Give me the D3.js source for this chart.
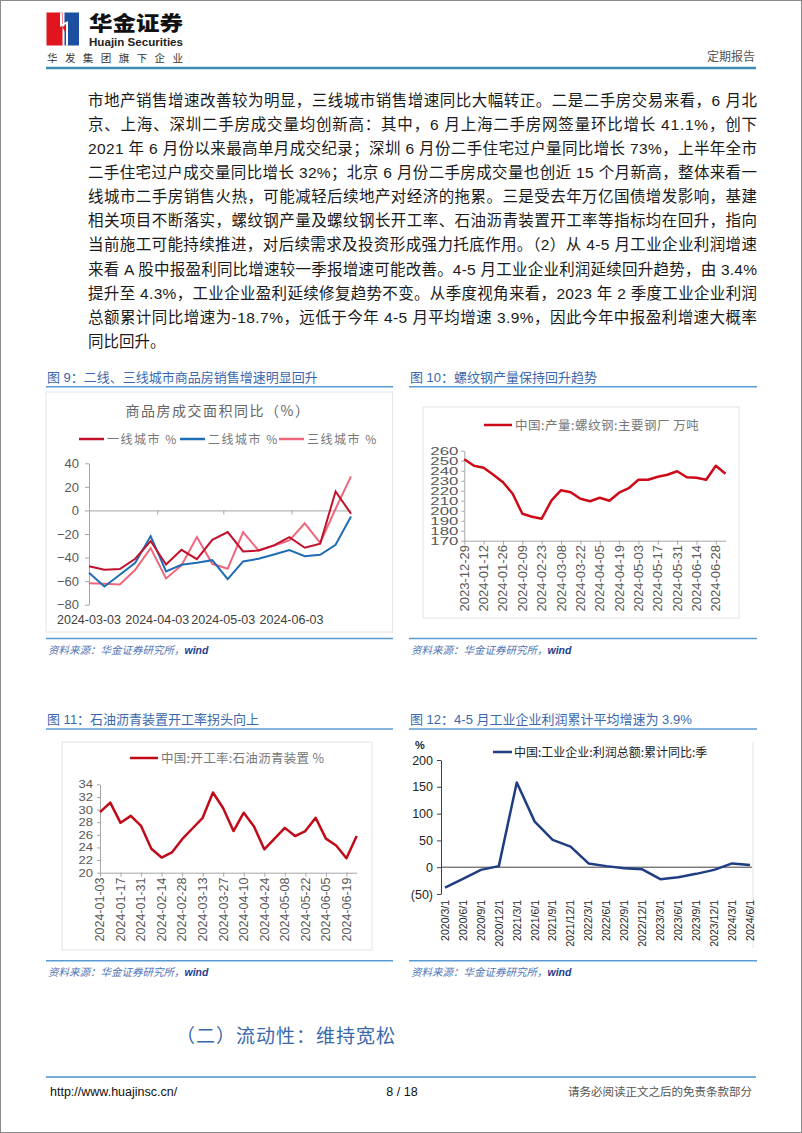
<!DOCTYPE html>
<html><head><meta charset="utf-8">
<script src="https://cdn.jsdelivr.net/npm/d3@7"></script>
<style>body{margin:0;background:#fff}svg{display:block}</style>
</head><body>
<svg id="page" width="802" height="1133"></svg>
<script>
// ---------------- DATA ----------------
const bodyLines = [
  "市地产销售增速改善较为明显，三线城市销售增速同比大幅转正。二是二手房交易来看，6 月北",
  "京、上海、深圳二手房成交量均创新高：其中，6 月上海二手房网签量环比增长 41.1%，创下",
  "2021 年 6 月份以来最高单月成交纪录；深圳 6 月份二手住宅过户量同比增长 73%，上半年全市",
  "二手住宅过户成交量同比增长 32%；北京 6 月份二手房成交量也创近 15 个月新高，整体来看一",
  "线城市二手房销售火热，可能减轻后续地产对经济的拖累。三是受去年万亿国债增发影响，基建",
  "相关项目不断落实，螺纹钢产量及螺纹钢长开工率、石油沥青装置开工率等指标均在回升，指向",
  "当前施工可能持续推进，对后续需求及投资形成强力托底作用。（2）从 4-5 月工业企业利润增速",
  "来看 A 股中报盈利同比增速较一季报增速可能改善。4-5 月工业企业利润延续回升趋势，由 3.4%",
  "提升至 4.3%，工业企业盈利延续修复趋势不变。从季度视角来看，2023 年 2 季度工业企业利润",
  "总额累计同比增速为-18.7%，远低于今年 4-5 月平均增速 3.9%，因此今年中报盈利增速大概率",
  "同比回升。"
];

// Figure 9
const c9Dates = ["2024-03-03","2024-03-10","2024-03-17","2024-03-24","2024-03-31","2024-04-07","2024-04-14","2024-04-21","2024-04-28","2024-05-05","2024-05-12","2024-05-19","2024-05-26","2024-06-02","2024-06-09","2024-06-16","2024-06-23","2024-06-30"];
const c9Tier1 = [-47.3,-50.4,-49.8,-41,-26,-45.9,-33.4,-41.3,-25,-18.4,-34.8,-34,-29.7,-22.6,-31.7,-28.3,16.1,-2.8];
const c9Tier2 = [-52.9,-64.5,-54.6,-44.4,-21.8,-51.8,-46.1,-44.4,-42.2,-58.3,-43.3,-41,-37.4,-33.7,-38.8,-37.6,-29.2,-5.1];
const c9Tier3 = [-61.7,-62.3,-62.8,-50.4,-32,-57.7,-46.7,-22.6,-45.3,-49.5,-18.4,-34,-29.7,-25.5,-11,-27.5,1.4,28.9];
const c9Names = ["一线城市 %","二线城市 %","三线城市 %"];
const c9XTicks = ["2024-03-03","2024-04-03","2024-05-03","2024-06-03"];
const c9YTicks = [40,20,0,-20,-40,-60,-80];

// Figure 10
const c10Dates = ["2023-12-29","2024-01-05","2024-01-12","2024-01-19","2024-01-26","2024-02-02","2024-02-09","2024-02-16","2024-02-23","2024-03-01","2024-03-08","2024-03-15","2024-03-22","2024-03-29","2024-04-05","2024-04-12","2024-04-19","2024-04-26","2024-05-03","2024-05-10","2024-05-17","2024-05-24","2024-05-31","2024-06-07","2024-06-14","2024-06-21","2024-06-28","2024-07-05"];
const c10Values = [251.5,245,243,236,228.5,217,197,194,192,210,220.5,218.5,212,209.5,213,210,218,222.5,231,231,234,236,239.5,233.5,233,231,245,237];
const c10Name = "中国:产量:螺纹钢:主要钢厂 万吨";
const c10YTicks = [170,180,190,200,210,220,230,240,250,260];

// Figure 11
const c11Dates = ["2024-01-03","2024-01-10","2024-01-17","2024-01-24","2024-01-31","2024-02-07","2024-02-14","2024-02-21","2024-02-28","2024-03-06","2024-03-13","2024-03-20","2024-03-27","2024-04-03","2024-04-10","2024-04-17","2024-04-24","2024-05-01","2024-05-08","2024-05-15","2024-05-22","2024-05-29","2024-06-05","2024-06-12","2024-06-19","2024-06-26"];
const c11Values = [29.6,31.1,27.9,29.0,27.4,23.8,22.4,23.2,25.3,27.0,28.7,32.7,30.2,26.6,29.5,27.3,23.7,25.4,27.1,25.8,26.6,28.7,25.4,24.3,22.3,25.8];
const c11Name = "中国:开工率:石油沥青装置 %";
const c11YTicks = [20,22,24,26,28,30,32,34];

// Figure 12
const c12Dates = ["2020/3/1","2020/6/1","2020/9/1","2020/12/1","2021/3/1","2021/6/1","2021/9/1","2021/12/1","2022/3/1","2022/6/1","2022/9/1","2022/12/1","2023/3/1","2023/6/1","2023/9/1","2023/12/1","2024/3/1","2024/6/1"];
const c12Values = [-38,-21.8,-5,2,158,85,51,38.5,7,2,-2,-4,-22.4,-18.7,-12.4,-5,7,4];
const c12Name = "中国:工业企业:利润总额:累计同比:季";
const c12YTicks = [200,150,100,50,0,-50];

// ---------------- DRAWING ----------------
const svg = d3.select("#page");
const CJK = '"Noto Sans CJK SC", sans-serif';
const LAT = '"Liberation Sans", Arial, "Noto Sans CJK SC", sans-serif';
const parse = d3.timeParse("%Y-%m-%d");
const capBlue = "#3a68ad", lineBlue = "#5b9bd5";

svg.append("rect").attr("x",0.5).attr("y",0.5).attr("width",801).attr("height",1132)
  .attr("fill","#fff").attr("stroke","#8a8a8a");

// Header / logo
const hd = svg.append("g");
hd.append("rect").attr("x",46.5).attr("y",12.5).attr("width",16).attr("height",33).attr("fill","#e0151d");
hd.append("rect").attr("x",64.5).attr("y",12.5).attr("width",14.5).attr("height",33).attr("fill","#1d4fa0");
hd.append("path").attr("d","M60,12.5 L60,27 L66,24 L66,45.5 L68,45.5 L68,21 L62,24 L62,12.5 Z").attr("fill","#fff");
hd.append("path").attr("d","M62.5,27 L66,25 L66,34 Z").attr("fill","#e0151d");
hd.append("text").attr("x",89).attr("y",30.5).attr("textLength",94).attr("lengthAdjust","spacingAndGlyphs")
  .attr("font-family",CJK).attr("font-weight",900).attr("font-size",20).attr("fill","#111").text("华金证券");
hd.append("text").attr("x",89).attr("y",46).attr("textLength",94).attr("lengthAdjust","spacingAndGlyphs")
  .attr("font-family",LAT).attr("font-weight",700).attr("font-size",10.5).attr("fill","#222").text("Huajin Securities");
hd.append("text").attr("x",47).attr("y",62).attr("textLength",136).attr("lengthAdjust","spacing")
  .attr("font-family",CJK).attr("font-size",10.5).attr("fill","#333").text("华发集团旗下企业");
hd.append("text").attr("x",755).attr("y",61).attr("text-anchor","end")
  .attr("font-family",CJK).attr("font-size",12).attr("fill","#555").text("定期报告");
hd.append("line").attr("x1",46).attr("x2",756).attr("y1",68).attr("y2",68).attr("stroke","#3f8db3").attr("stroke-width",2.5);

// Body text
const body = svg.append("g").attr("font-family",'"Liberation Sans Narrow","Liberation Sans","Noto Sans CJK SC",sans-serif')
  .attr("font-size",15.5).attr("fill","#1a1a1a");
bodyLines.forEach((t,i)=>{
  const tx = body.append("text").attr("x",88).attr("y",105.5+i*24.15).text(t);
  if(i<bodyLines.length-1) tx.attr("textLength",669).attr("lengthAdjust","spacing");
});

function caption(x,x2,yText,yLine,text){
  svg.append("text").attr("x",x).attr("y",yText+4.5).attr("font-family",'"Liberation Sans","Noto Sans CJK SC",sans-serif')
    .attr("font-size",13).attr("fill",capBlue).text(text);
  svg.append("line").attr("x1",x-1).attr("x2",x2).attr("y1",yLine).attr("y2",yLine).attr("stroke",lineBlue).attr("stroke-width",1.5);
}
function source(x,x2,yLine,yText){
  svg.append("line").attr("x1",x-1).attr("x2",x2).attr("y1",yLine).attr("y2",yLine).attr("stroke",lineBlue).attr("stroke-width",1.5);
  const t = svg.append("text").attr("x",x+1).attr("y",yText+4).attr("font-size",10.5).attr("font-style","italic")
    .attr("font-family",'"Liberation Sans","Noto Sans CJK SC",sans-serif');
  t.append("tspan").attr("fill","#4f74b5").text("资料来源：华金证券研究所，");
  t.append("tspan").attr("fill","#1f3e8c").attr("font-weight",700).text("wind");
}
function frame(x1,y1,x2,y2){
  svg.append("rect").attr("x",x1).attr("y",y1).attr("width",x2-x1).attr("height",y2-y1)
    .attr("fill","none").attr("stroke","#e4e4e4").attr("stroke-width",1);
}

caption(47,393,377.7,386.7,"图 9：二线、三线城市商品房销售增速明显回升");
caption(410,757,377.7,386.7,"图 10：螺纹钢产量保持回升趋势");
caption(47,393,719.5,729,"图 11：石油沥青装置开工率拐头向上");
caption(410,757,719.5,729,"图 12：4-5 月工业企业利润累计平均增速为 3.9%");
source(47,393,638.5,650);
source(410,757,638.5,650);
source(47,393,960.7,971.5);
source(410,757,960.7,971.5);

// ---------- Figure 9 ----------
frame(46,392,392.5,632);
{
  const g = svg.append("g");
  const x = d3.scaleTime().domain([parse(c9Dates[0]),parse(c9Dates[c9Dates.length-1])]).range([89,351]);
  const y = d3.scaleLinear().domain([-80,40]).range([604.7,463.3]);
  g.append("text").attr("x",218).attr("y",416).attr("text-anchor","middle").attr("font-family",CJK)
    .attr("font-size",14).attr("letter-spacing",1.5).attr("fill","#666").text("商品房成交面积同比（%）");
  const ya = g.append("g").attr("transform","translate(89,0)")
    .call(d3.axisLeft(y).tickValues(c9YTicks).tickSize(4).tickSizeOuter(0).tickPadding(6));
  ya.select(".domain").attr("stroke","#a6a6a6");
  ya.selectAll(".tick line").attr("stroke","#a6a6a6");
  ya.selectAll("text").attr("font-family",LAT).attr("font-size",13).attr("fill","#595959");
  const xa = g.append("g").attr("transform",`translate(0,${y(0)})`)
    .call(d3.axisBottom(x).tickValues(c9XTicks.map(parse)).tickSize(4).tickSizeOuter(0).tickFormat(""));
  xa.select(".domain").attr("stroke","#a6a6a6");
  xa.selectAll(".tick line").attr("stroke","#a6a6a6");
  g.selectAll(".xl").data(c9XTicks).join("text").attr("x",d=>x(parse(d))).attr("y",623.5)
    .attr("text-anchor","middle").attr("font-family",LAT).attr("font-size",12.5).attr("fill","#404040").text(d=>d);
  const series = [c9Tier1,c9Tier2,c9Tier3];
  const colors = ["#c3102a","#1f6db5","#f0667c"];
  const ln = d3.line().x((d,i)=>x(parse(c9Dates[i]))).y(d=>y(d));
  [2,1,0].forEach(k=>{
    g.append("path").attr("d",ln(series[k])).attr("fill","none").attr("stroke",colors[k]).attr("stroke-width",2);
  });
  const lx = [79,180,279];
  c9Names.forEach((n,k)=>{
    g.append("line").attr("x1",lx[k]).attr("x2",lx[k]+25).attr("y1",439).attr("y2",439).attr("stroke",colors[k]).attr("stroke-width",2.5);
    g.append("text").attr("x",lx[k]+28).attr("y",443.5).attr("font-family",CJK).attr("font-size",12)
      .attr("letter-spacing",1.5).attr("fill","#777").text(n);
  });
}

// ---------- Figure 10 ----------
frame(423,407,739,618);
{
  const g = svg.append("g");
  const x = d3.scaleLinear().domain([0,c10Dates.length-1]).range([464.3,725.5]);
  const y = d3.scaleLinear().domain([170,260]).range([540.7,450.7]);
  const ya = g.append("g").attr("transform","translate(464.3,0)")
    .call(d3.axisLeft(y).tickValues(c10YTicks).tickSize(3).tickSizeOuter(0).tickPadding(3));
  ya.select(".domain").attr("stroke","#a6a6a6");
  ya.selectAll(".tick line").attr("stroke","#a6a6a6");
  ya.selectAll("text").attr("font-family",LAT).attr("font-size",10.5).attr("fill","#595959")
    .attr("textLength",28).attr("lengthAdjust","spacingAndGlyphs");
  const idx = d3.range(0,c10Dates.length,2);
  const xa = g.append("g").attr("transform",`translate(0,${y(170)})`)
    .call(d3.axisBottom(x).tickValues(idx).tickSize(4).tickSizeOuter(0).tickFormat(""));
  xa.select(".domain").attr("stroke","#a6a6a6");
  xa.selectAll(".tick line").attr("stroke","#a6a6a6");
  g.selectAll(".xl").data(idx).join("text")
    .attr("transform",i=>`translate(${x(i)+4.5},545) rotate(-90)`).attr("text-anchor","end")
    .attr("font-family",LAT).attr("font-size",13).attr("fill","#595959").text(i=>c10Dates[i]);
  g.append("path").attr("d",d3.line().x((d,i)=>x(i)).y(d=>y(d))(c10Values))
    .attr("fill","none").attr("stroke","#cc0a18").attr("stroke-width",2.5).attr("stroke-linejoin","round");
  g.append("line").attr("x1",484).attr("x2",512).attr("y1",425).attr("y2",425).attr("stroke","#cc0a18").attr("stroke-width",2.5);
  g.append("text").attr("x",515).attr("y",429.5).attr("font-family",CJK).attr("font-size",12.5)
    .attr("letter-spacing",0.5).attr("fill","#777").text(c10Name);
}

// ---------- Figure 11 ----------
frame(62,742,372,950);
{
  const g = svg.append("g");
  const x = d3.scaleLinear().domain([0,c11Dates.length-1]).range([100,356.7]);
  const y = d3.scaleLinear().domain([20,34]).range([872.7,784.3]);
  const ya = g.append("g").attr("transform","translate(100,0)")
    .call(d3.axisLeft(y).tickValues(c11YTicks).tickSize(3).tickSizeOuter(0).tickPadding(4));
  ya.select(".domain").attr("stroke","#a6a6a6");
  ya.selectAll(".tick line").attr("stroke","#a6a6a6");
  ya.selectAll("text").attr("font-family",LAT).attr("font-size",11).attr("fill","#595959")
    .attr("textLength",14.5).attr("lengthAdjust","spacingAndGlyphs");
  const idx = d3.range(0,c11Dates.length,2);
  const xa = g.append("g").attr("transform",`translate(0,${y(20)})`)
    .call(d3.axisBottom(x).tickValues(idx).tickSize(4).tickSizeOuter(0).tickFormat(""));
  xa.select(".domain").attr("stroke","#a6a6a6");
  xa.selectAll(".tick line").attr("stroke","#a6a6a6");
  g.selectAll(".xl").data(idx).join("text")
    .attr("transform",i=>`translate(${x(i)+4.3},877.5) rotate(-90)`).attr("text-anchor","end")
    .attr("font-family",LAT).attr("font-size",12.5).attr("fill","#595959").text(i=>c11Dates[i]);
  g.append("path").attr("d",d3.line().x((d,i)=>x(i)).y(d=>y(d))(c11Values))
    .attr("fill","none").attr("stroke","#c00a18").attr("stroke-width",2.5).attr("stroke-linejoin","round");
  g.append("line").attr("x1",130).attr("x2",158).attr("y1",758).attr("y2",758).attr("stroke","#c00a18").attr("stroke-width",2.5);
  g.append("text").attr("x",161).attr("y",762.5).attr("font-family",CJK).attr("font-size",12.5)
    .attr("letter-spacing",0.3).attr("fill","#777").text(c11Name);
}

// ---------- Figure 12 ----------
svg.append("line").attr("x1",753).attr("x2",753).attr("y1",742).attr("y2",948).attr("stroke","#e4e4e4");
{
  const g = svg.append("g");
  const x = d3.scalePoint().domain(c12Dates).range([445,750]);
  const y = d3.scaleLinear().domain([-50,200]).range([894,760]);
  const ya = g.append("g").attr("transform","translate(441,0)")
    .call(d3.axisLeft(y).tickValues(c12YTicks).tickSize(4).tickSizeOuter(0).tickPadding(4)
      .tickFormat(v=>v<0?`(${-v})`:v));
  ya.select(".domain").attr("stroke","#404040");
  ya.selectAll(".tick line").attr("stroke","#404040");
  ya.selectAll("text").attr("font-family",LAT).attr("font-size",12.5).attr("fill","#262626");
  const xa = g.append("g").attr("transform",`translate(0,${y(0)})`)
    .call(d3.axisBottom(x).tickSize(0).tickFormat(""));
  xa.select(".domain").attr("stroke","#404040").attr("d","M441,0H752");
  g.append("text").attr("x",420).attr("y",749).attr("text-anchor","middle").attr("font-family",LAT)
    .attr("font-size",11).attr("font-weight",700).attr("fill","#262626").text("%");
  g.selectAll(".xl").data(c12Dates).join("text")
    .attr("transform",d=>`translate(${x(d)+3.8},900) rotate(-90)`).attr("text-anchor","end")
    .attr("font-family",LAT).attr("font-size",10.5).attr("fill","#262626").text(d=>d);
  g.append("path").attr("d",d3.line().x((d,i)=>x(c12Dates[i])).y(d=>y(d))(c12Values))
    .attr("fill","none").attr("stroke","#1f3d82").attr("stroke-width",2.5).attr("stroke-linejoin","round");
  g.append("line").attr("x1",493).attr("x2",512).attr("y1",752).attr("y2",752).attr("stroke","#1f3d82").attr("stroke-width",2.5);
  g.append("text").attr("x",514).attr("y",756.5).attr("font-family",CJK).attr("font-size",12)
    .attr("fill","#222").text(c12Name);
}

// Section heading & footer
svg.append("text").attr("x",176).attr("y",1043).attr("font-family",CJK).attr("font-size",19)
  .attr("letter-spacing",1).attr("fill","#3a68ad").text("（二）流动性：维持宽松");
svg.append("line").attr("x1",46).attr("x2",756).attr("y1",1077).attr("y2",1077).attr("stroke","#4a8fc4").attr("stroke-width",1.5);
svg.append("text").attr("x",50).attr("y",1095.5).attr("font-family",LAT).attr("font-size",12.5).attr("fill","#111").text("http://www.huajinsc.cn/");
svg.append("text").attr("x",402).attr("y",1095.5).attr("text-anchor","middle").attr("font-family",LAT).attr("font-size",12.5).attr("fill","#111").text("8 / 18");
svg.append("text").attr("x",752).attr("y",1095.5).attr("text-anchor","end").attr("font-family",CJK).attr("font-size",11.5).attr("fill","#555").text("请务必阅读正文之后的免责条款部分");
</script>
</body></html>
